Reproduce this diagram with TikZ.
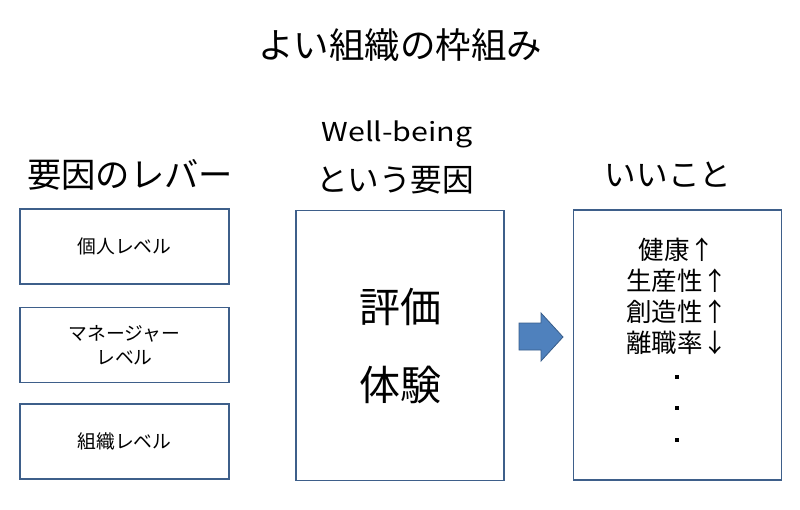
\documentclass[tikz,border=0pt]{standalone}
\usepackage{fontspec}
\setmainfont{Noto Sans CJK JP}
\usepackage{tikz}
\usetikzlibrary{positioning}

\definecolor{boxline}{HTML}{3E5F8A}
\definecolor{arrowfill}{HTML}{4F81BD}
\definecolor{arrowline}{HTML}{385D8A}

\tikzset{
    levelbox/.style={draw=boxline, line width=1.3pt, minimum width=209pt, minimum height=75pt,
        align=center, font=\fontsize{18.8}{24}\selectfont},
    bigbox/.style={draw=boxline, line width=1.3pt, minimum width=208pt, minimum height=270pt},
    heading/.style={align=center, font=\fontsize{31.6}{40}\selectfont}
}

\begin{document}
\begin{tikzpicture}[x=1pt, y=-1pt]
    % Khung ảnh
    \useasboundingbox (0,0) rectangle (800,509);
    \node[font=\fontsize{35.5}{40}\selectfont] (title) at (400,45) {よい組織の枠組み};

    % Cột trái
    \node[heading, font=\fontsize{34.3}{40}\selectfont] (lever) at (130,175) {要因のレバー};
    \node[levelbox] (kojin) at (124.5,246.5) {個人レベル};
    \node[levelbox] (manager) at (124.5,345) {マネージャー\\レベル};
    \node[levelbox] (soshiki) at (124.5,441.5) {組織レベル};

    % Cột giữa
    \node[font=\fontsize{26}{30}\selectfont] (wb) at (397,134) {\scalebox{1.17}[1]{Well-being}};
    \node[heading] (youin) at (395,180) {という要因};
    \node[bigbox] (mid) at (400,345.5) {};
    \node[font=\fontsize{41}{48}\selectfont] (hyouka) at (400,307) {評価};
    \node[font=\fontsize{41}{48}\selectfont] (taiken) at (400,385) {体験};

    % Mũi tên khối
    \filldraw[fill=arrowfill, draw=arrowline, line width=0.8pt, line join=miter]
        (519,323) -- (541,323) -- (541,313) -- (563,337) -- (541,361)
        -- (541,350) -- (519,350) -- cycle;

    % Cột phải
    \node[heading] (iikoto) at (668,175) {いいこと};
    \node[bigbox] (right) at (677.5,345) {};
    \node[font=\fontsize{25.5}{31}\selectfont, align=center] (list) at (677,296)
        {健康↑\\生産性↑\\創造性↑\\離職率↓};
    \foreach \y/\n in {377/a, 408/b, 440/c}
        \fill (677,\y) coordinate (dot\n) +(-2,-2) rectangle +(2,2);
\end{tikzpicture}
\end{document}
